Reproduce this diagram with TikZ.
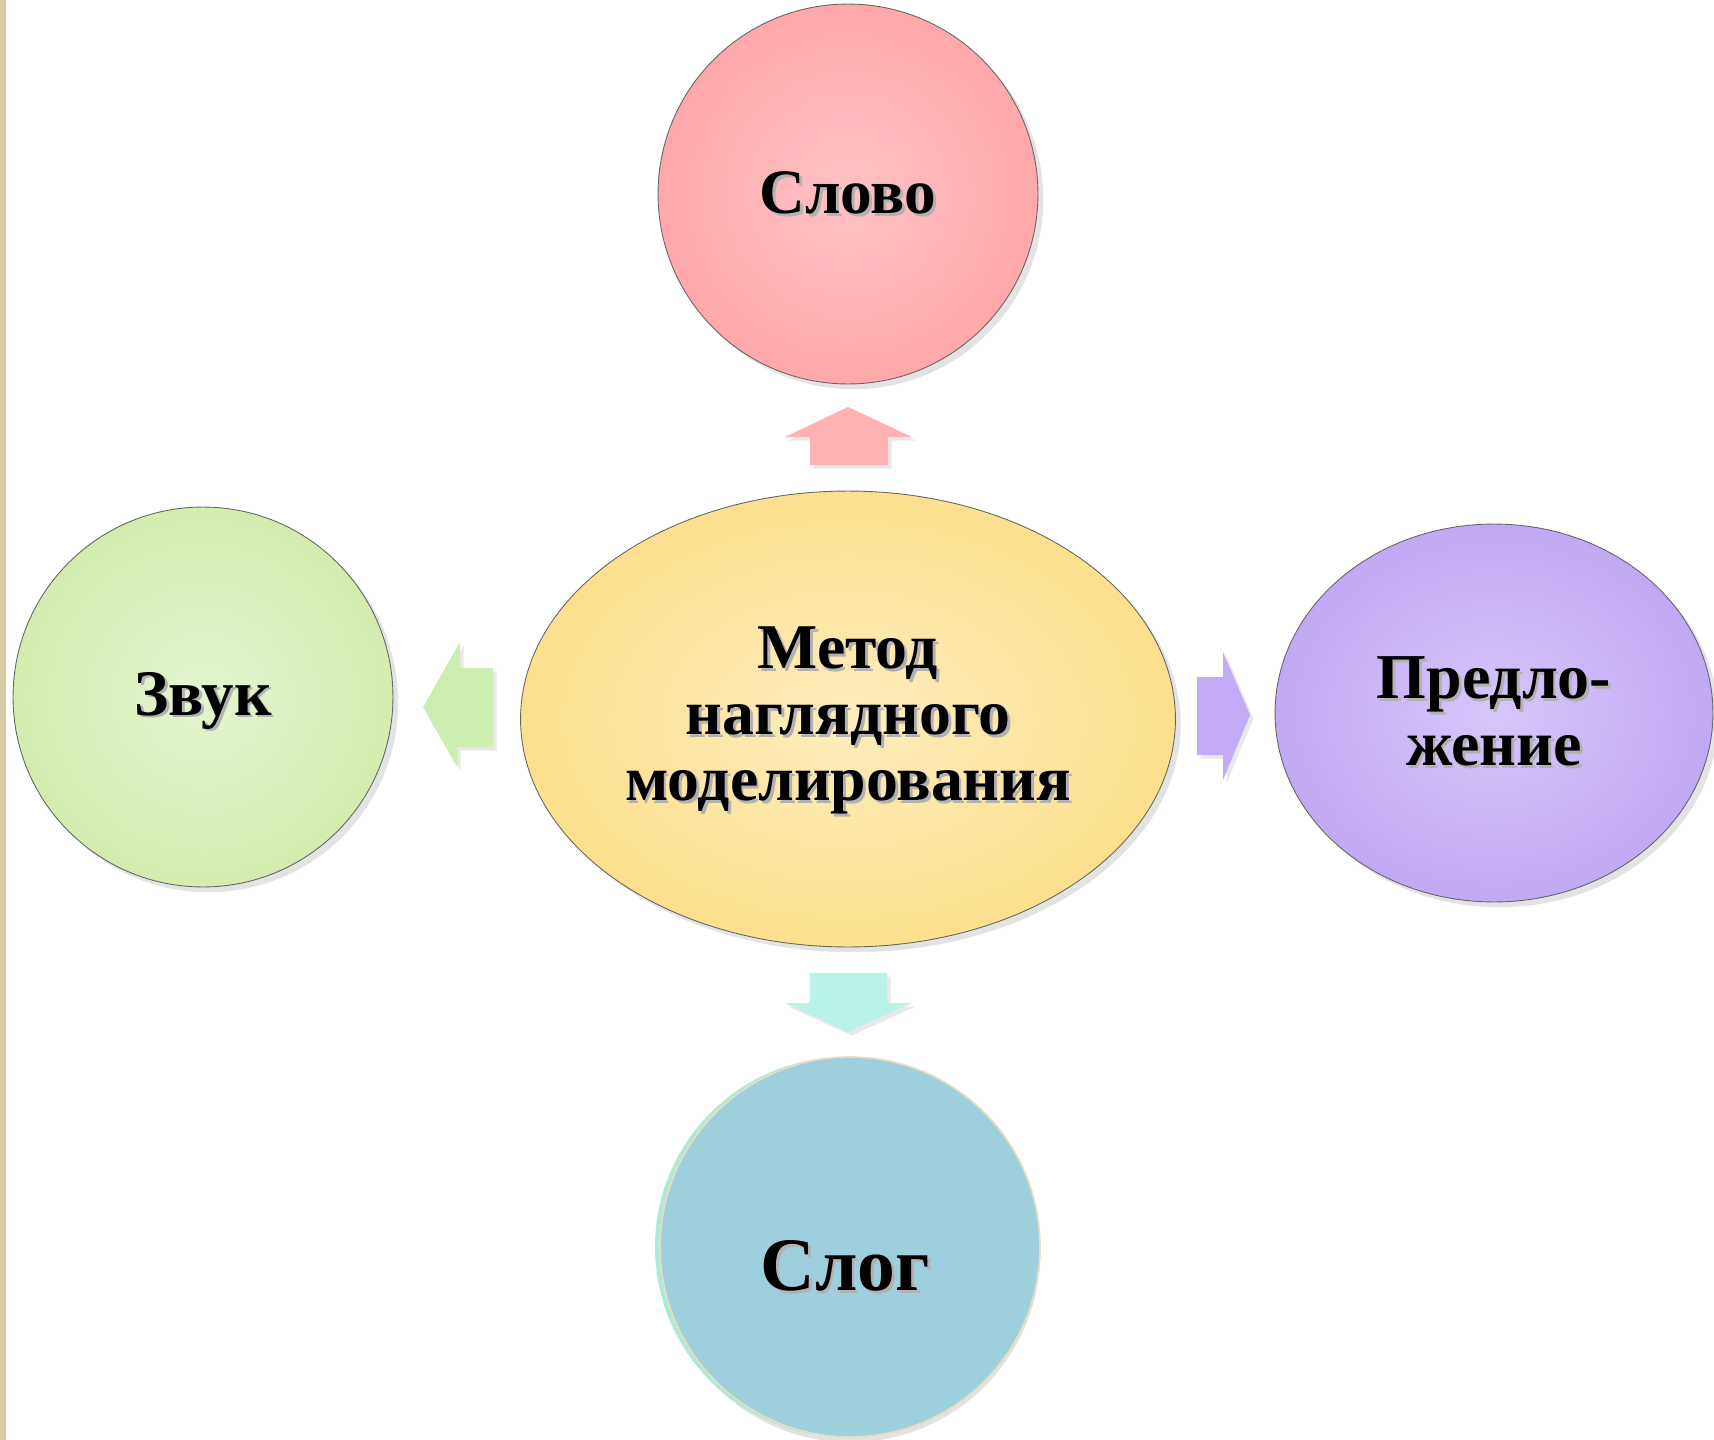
\documentclass[tikz,border=0pt]{standalone}
\usepackage{fontspec}
\setmainfont{Liberation Serif}
\usetikzlibrary{shapes.geometric,shadows}

\definecolor{stripbeige}{HTML}{D8CCA6}
\definecolor{pinkin}{HTML}{FFC2C5}
\definecolor{pinkout}{HTML}{FFA8AB}
\definecolor{greenin}{HTML}{E3F5CF}
\definecolor{greenout}{HTML}{D4ECAE}
\definecolor{yellowin}{HTML}{FDEDBD}
\definecolor{yellowout}{HTML}{FDE08E}
\definecolor{violetin}{HTML}{D6C6FA}
\definecolor{violetout}{HTML}{C2A9F4}
\definecolor{slogblue}{HTML}{9DCFDC}
\definecolor{slogmint}{HTML}{A9EAD9}
\definecolor{slogrim}{HTML}{E6DCBF}
\definecolor{arrpink}{HTML}{FFB1B4}
\definecolor{arrgreen}{HTML}{CEEDB1}
\definecolor{arrviolet}{HTML}{C4ABF6}
\definecolor{arrmint}{HTML}{BAF2EA}

\newcommand{\shtxt}[1]{\leavevmode\rlap{\kern1.6pt\raisebox{-1.6pt}{\textcolor{black!30}{#1}}}#1}

\begin{document}
\begin{tikzpicture}[x=0.02cm, y=-0.02cm,
	blob/.style={draw=black!60, line width=0.5pt, inner sep=0pt, align=center,
		shading=radial, drop shadow={shadow xshift=3pt, shadow yshift=-3pt, opacity=0.22}},
	blocktext/.style={inner sep=0pt, align=center},
	blockarrow/.style={drop shadow={shadow xshift=2pt, shadow yshift=-2pt, opacity=0.18}}]

	\useasboundingbox (0,0) rectangle (1714,1440);
	\fill[stripbeige] (0,0) rectangle (6,1440);

	% centre
	\node (metod) at (848,719) [blob, shape=ellipse, minimum width=13.1cm, minimum height=9.12cm,
		inner color=yellowin, outer color=yellowout] {};
	\node (metodtext) at (848,722) [blocktext, font=\bfseries\fontsize{36.3}{37.6}\selectfont]
		{\shtxt{Метод}\\ \shtxt{наглядного}\\ \shtxt{моделирования}};

	% four around
	\node (slovo) at (848,194) [blob, shape=circle, minimum size=7.6cm,
		inner color=pinkin, outer color=pinkout,
		font=\bfseries\fontsize{36}{36}\selectfont] {\shtxt{Слово}};
	\node (zvuk) at (203,697) [blob, shape=circle, minimum size=7.6cm,
		inner color=greenin, outer color=greenout] {};
	\node (zvuktext) at (203,702) [blocktext, font=\bfseries\fontsize{37}{37}\selectfont] {\shtxt{Звук}};
	\node (predl) at (1494,713) [blob, shape=ellipse, minimum width=8.76cm, minimum height=7.56cm,
		inner color=violetin, outer color=violetout,
		font=\bfseries\fontsize{36.4}{38}\selectfont] {\shtxt{Предло-}\\ \shtxt{жение}};

	\node (slogback) at (845,1247) [shape=circle, minimum size=7.6cm, fill=slogmint,
		drop shadow={shadow xshift=3pt, shadow yshift=-3pt, opacity=0.22}] {};
	\node (slog) at (850,1247) [shape=circle, minimum size=7.6cm, fill=slogblue, draw=slogrim, line width=1pt] {};
	\node (slogtext) at (845,1267) [blocktext, font=\bfseries\fontsize{43}{43}\selectfont] {\shtxt{Слог}};

	% block arrows
	\fill[arrpink, blockarrow] (810,465) -- (810,437) -- (785,437) -- (848,407) -- (912,437) -- (888,437) -- (888,465) -- cycle;
	\fill[arrmint, blockarrow] (810,973) -- (887,973) -- (887,1003) -- (912,1003) -- (848,1032) -- (785,1003) -- (810,1003) -- cycle;
	\fill[arrgreen, blockarrow] (493,668) -- (460,668) -- (460,642) -- (423,707) -- (457,767) -- (457,747) -- (493,747) -- cycle;
	\fill[arrviolet, blockarrow] (1197,677) -- (1223,677) -- (1223,652) -- (1250,715) -- (1223,780) -- (1223,755) -- (1197,755) -- cycle;
\end{tikzpicture}
\end{document}
